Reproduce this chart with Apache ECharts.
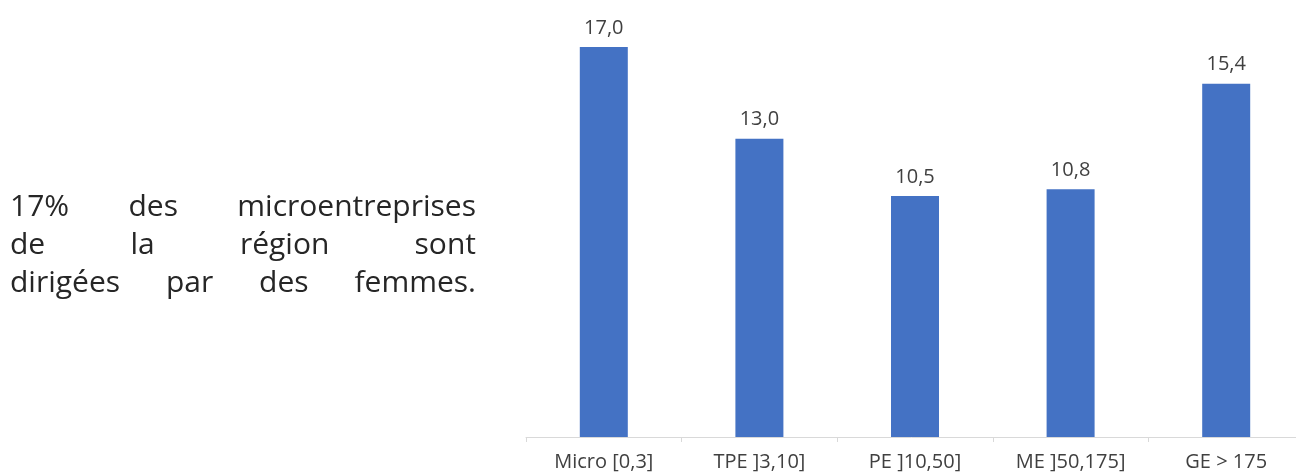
<!DOCTYPE html>
<html>
<head>
<meta charset="utf-8">
<script src="https://cdn.jsdelivr.net/npm/echarts@6/dist/echarts.min.js"></script>
<style>
html,body{margin:0;padding:0;background:#fff;}
#chart{position:absolute;left:0;top:0;width:1296px;height:473px;}
#note{position:absolute;left:10px;top:186px;width:466px;font-family:"Open Sans",sans-serif;font-size:30px;letter-spacing:0px;line-height:38px;color:#262626;font-weight:400;}
#note span{display:block;text-align:justify;text-align-last:justify;white-space:nowrap;}
</style>
</head>
<body>
<div id="chart"></div>
<div id="note"><span>17% des microentreprises</span><span>de la région sont</span><span>dirigées par des femmes.</span></div>
<script>
const categories = ["Micro [0,3]", "TPE ]3,10]", "PE ]10,50]", "ME ]50,175]", "GE > 175"];
const values = [17.0, 13.0, 10.5, 10.8, 15.4];

const chart = echarts.init(document.getElementById('chart'));
chart.setOption({
  animation: false,
  grid: {left: 526, right: -8, top: 47, bottom: 36, outerBoundsMode: 'none', containLabel: false},
  xAxis: {
    type: 'category',
    data: categories,
    axisLine: {lineStyle: {color: '#d9d9d9', width: 1}},
    axisTick: {show: true, length: 5, alignWithLabel: false, lineStyle: {color: '#d9d9d9'}},
    axisLabel: {color: '#404040', fontSize: 20, margin: 15, fontFamily: '"Open Sans", sans-serif', interval: 0}
  },
  yAxis: {
    type: 'value', min: 0, max: 17, show: false,
    splitLine: {show: false}
  },
  series: [{
    type: 'bar',
    data: values,
    barWidth: 48,
    itemStyle: {color: '#4472C4'},
    label: {
      show: true, position: 'top', distance: 9,
      color: '#404040', fontSize: 20, fontFamily: '"Open Sans", sans-serif',
      formatter: p => p.value.toFixed(1).replace('.', ',')
    }
  }]
});
</script>
</body>
</html>
